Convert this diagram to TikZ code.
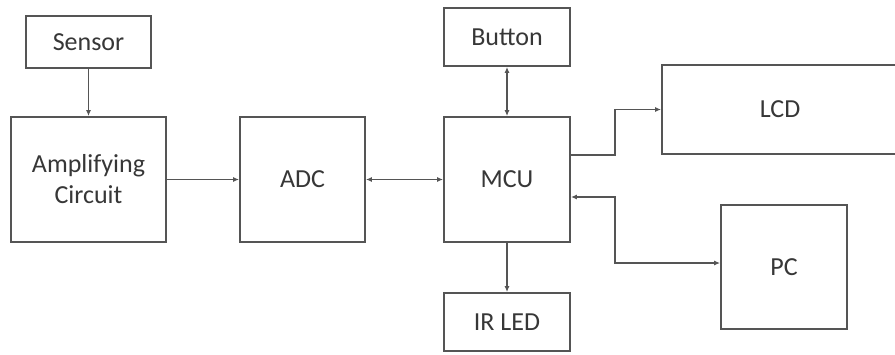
\documentclass[tikz,border=0pt]{standalone}
\usepackage{fontspec}
\setmainfont{Carlito}
\usetikzlibrary{arrows.meta,positioning,calc}
\definecolor{linegray}{RGB}{85,85,85}
\definecolor{textgray}{RGB}{55,55,55}
\tikzset{
  blockbox/.style={draw=linegray, line width=1.8pt, fill=white, inner sep=0pt,
    align=center, text=textgray, font=\fontsize{26}{31}\selectfont},
  conn/.style={linegray, line width=1.6pt, -{Latex[length=6pt,width=5pt]}},
  biconn/.style={conn, {Latex[length=6pt,width=5pt]}-{Latex[length=6pt,width=5pt]}}
}
\begin{document}
\begin{tikzpicture}[x=1pt, y=-1pt]
\useasboundingbox (0,0) rectangle (895,354);

% === Blocks ===
\node[blockbox, minimum width=125pt, minimum height=52pt] (sensor) at (88.5,42) {Sensor};
\node[blockbox, minimum width=155pt, minimum height=125pt] (amp) at (88.5,179.5) {Amplifying\\Circuit};
\node[blockbox, minimum width=125pt, minimum height=125pt] (adc) at (302.5,179.5) {ADC};
\node[blockbox, minimum width=126pt, minimum height=125pt] (mcu) at (507,179.5) {MCU};
\node[blockbox, minimum width=126pt, minimum height=58pt] (button) at (507,37) {Button};
\node[blockbox, minimum width=126pt, minimum height=58pt] (irled) at (507,322) {IR LED};
\node[blockbox, minimum width=236pt, minimum height=89pt] (lcd) at (780,109.5) {LCD};
\node[blockbox, minimum width=126pt, minimum height=124pt] (pc) at (784,267) {PC};

% === Connectors ===
\draw[conn] (sensor) -- (amp);
\draw[conn] (amp) -- (adc);
\draw[biconn] (adc) -- (mcu);
\draw[biconn] (button) -- (mcu);
\draw[conn] (mcu) -- (irled);
\draw[conn] ([yshift=24.5pt]mcu.east) -- ++(44,0) |- (lcd.west);
\draw[biconn] ([yshift=-17.5pt]mcu.east) -- ++(44,0) |- ([yshift=4pt]pc.west);

\end{tikzpicture}
\end{document}
